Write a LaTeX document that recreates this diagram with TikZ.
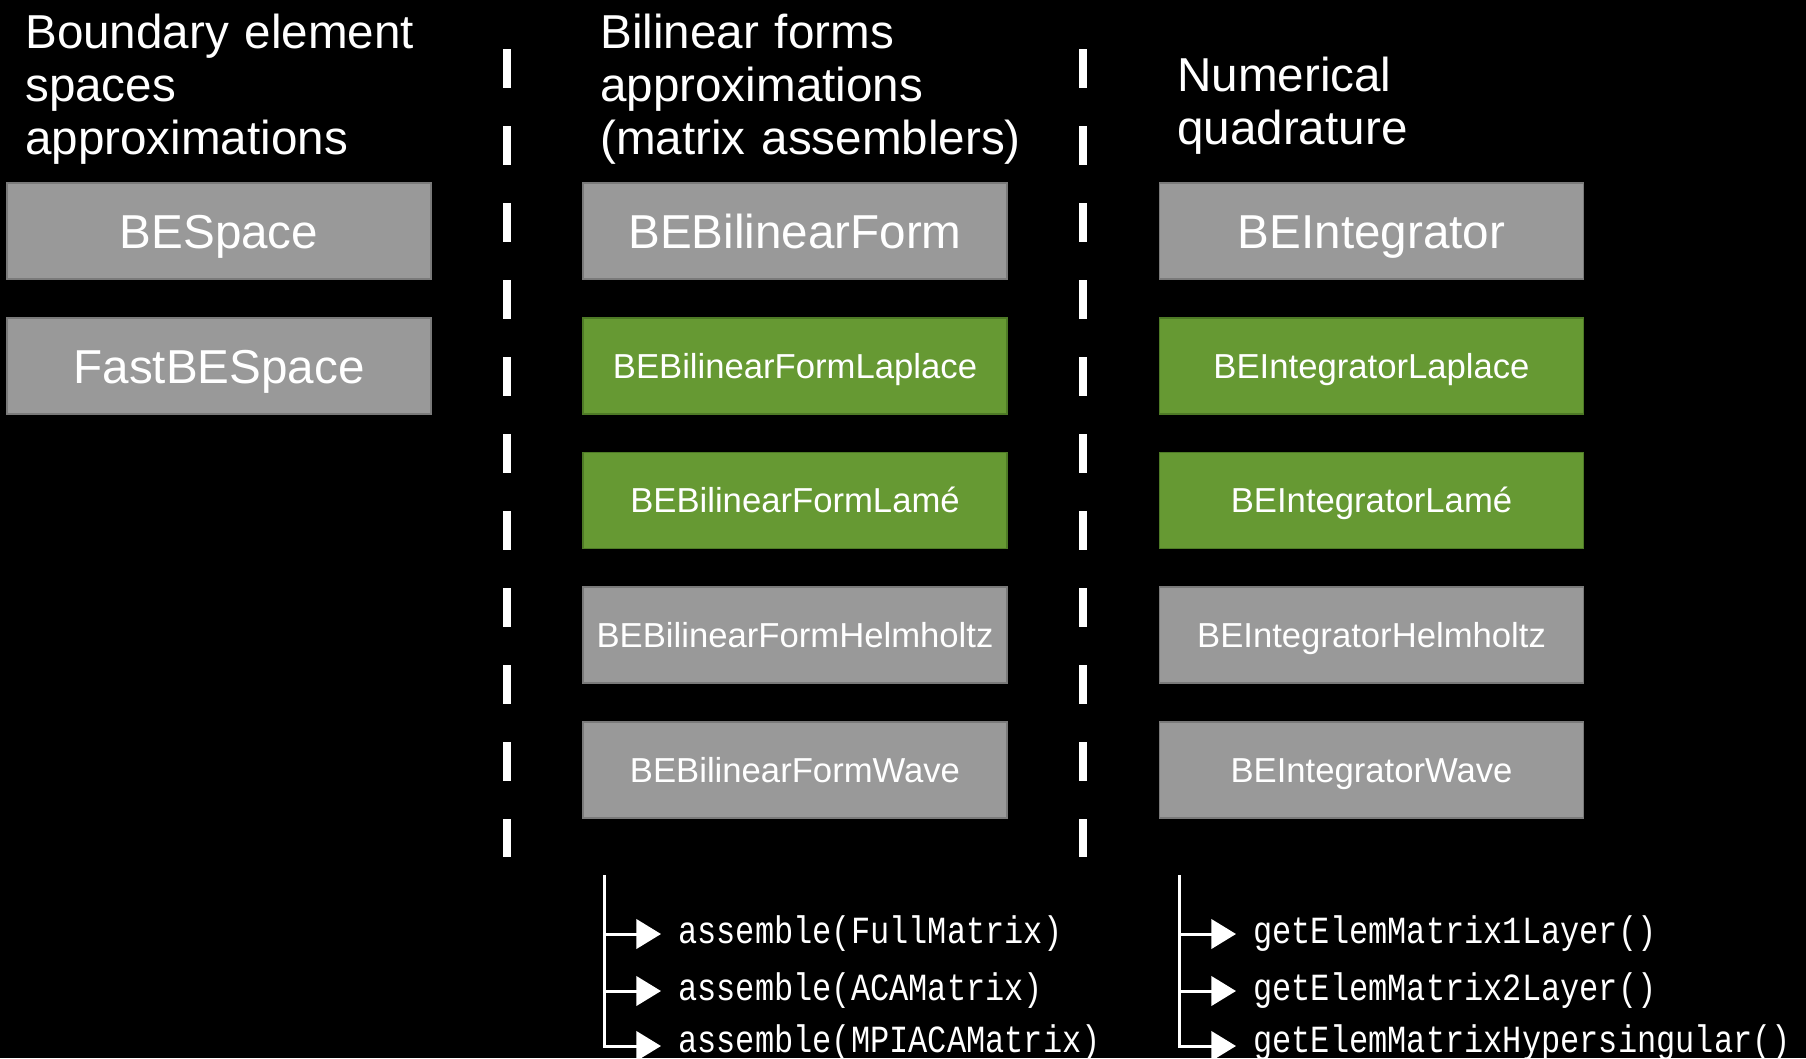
\documentclass[tikz,border=0pt]{standalone}
\usepackage{fontspec}
\usepackage{graphicx}
\setmainfont{Liberation Sans}
\setmonofont{Liberation Mono}
\usetikzlibrary{arrows.meta}
\newdimen\px \px=0.75pt
\newcommand{\tallmono}[1]{\scalebox{1}[1.2]{#1}}
\definecolor{boxgray}{HTML}{999999}
\definecolor{boxgrayline}{HTML}{7A7A7A}
\definecolor{boxgreen}{HTML}{669933}
\definecolor{boxgreenline}{HTML}{4E7A26}
\begin{document}
\begin{tikzpicture}[x=0.75pt,y=-0.75pt,
  box/.style={draw=boxgrayline, fill=boxgray, line width=1.2\px, minimum width=424\px, minimum height=96\px, inner sep=0pt, text=white, text height=25.6pt, text depth=0pt, font=\fontsize{35.7}{40}\selectfont},
  subbox/.style={box, text height=18.6pt, font=\fontsize{26}{30}\selectfont},
  greenbox/.style={subbox, fill=boxgreen, draw=boxgreenline},
  heading/.style={anchor=base west, inner sep=0pt, text=white, text width=560\px, align=left, font=\fontsize{35.7}{40}\selectfont},
  method/.style={anchor=base west, inner sep=0pt, text=white, font=\ttfamily\fontsize{24}{28}\selectfont},
  divider/.style={white, line width=8\px, dash pattern=on 38.5\px off 38.5\px},
  branch/.style={white, line width=3\px},
  arr/.style={branch, -{Triangle[length=18.5pt,width=22pt]}}
]
\fill[black] (0,0) rectangle (1806,1058);
\useasboundingbox (0,0) rectangle (1806,1058);

% headings
\node[heading] (h1) at (25,48) {Boundary element\\spaces\\approximations};
\node[heading] (h2) at (600,48) {Bilinear forms\\approximations\\(matrix assemblers)};
\node[heading] (h3) at (1177,91) {Numerical\\quadrature};

% left column
\node[box] (bespace) at (219,231) {BESpace};
\node[box] (fastbespace) at (219,366) {FastBESpace};

% middle column
\node[box] (bilin) at (795,231) {BEBilinearForm};
\node[greenbox] (bilinLap) at (795,366) {BEBilinearFormLaplace};
\node[greenbox] (bilinLame) at (795,500.5) {BEBilinearFormLamé};
\node[subbox] (bilinHelm) at (795,635) {BEBilinearFormHelmholtz};
\node[subbox] (bilinWave) at (795,770) {BEBilinearFormWave};

% right column
\node[box] (integ) at (1371.5,231) {BEIntegrator};
\node[greenbox] (integLap) at (1371.5,366) {BEIntegratorLaplace};
\node[greenbox] (integLame) at (1371.5,500.5) {BEIntegratorLamé};
\node[subbox] (integHelm) at (1371.5,635) {BEIntegratorHelmholtz};
\node[subbox] (integWave) at (1371.5,770) {BEIntegratorWave};

% dividers
\coordinate (d1a) at (507,49);
\coordinate (d1b) at (507,857);
\coordinate (d2a) at (1083,49);
\coordinate (d2b) at (1083,857);
\draw[divider] (d1a) -- (d1b);
\draw[divider] (d2a) -- (d2b);

% assemble methods
\coordinate (tA) at (604,875);
\coordinate (bA1) at (604,934);
\coordinate (bA2) at (604,991);
\coordinate (bA3) at (604,1046);
\coordinate (eA1) at (661,934);
\coordinate (eA2) at (661,991);
\coordinate (eA3) at (661,1046);
\node[method] (mA1) at (678,943) {\tallmono{assemble(FullMatrix)}};
\node[method] (mA2) at (678,1000) {\tallmono{assemble(ACAMatrix)}};
\node[method] (mA3) at (678,1052) {\tallmono{assemble(MPIACAMatrix)}};
\draw[arr] (tA) -- (bA3) -- (eA3);
\draw[arr] (bA1) -- (eA1);
\draw[arr] (bA2) -- (eA2);

% integrator methods
\coordinate (tB) at (1179,875);
\coordinate (bB1) at (1179,934);
\coordinate (bB2) at (1179,991);
\coordinate (bB3) at (1179,1046);
\coordinate (eB1) at (1236,934);
\coordinate (eB2) at (1236,991);
\coordinate (eB3) at (1236,1046);
\node[method] (mB1) at (1253,943) {\tallmono{getElemMatrix1Layer()}};
\node[method] (mB2) at (1253,1000) {\tallmono{getElemMatrix2Layer()}};
\node[method] (mB3) at (1253,1052) {\tallmono{getElemMatrixHypersingular()}};
\draw[arr] (tB) -- (bB3) -- (eB3);
\draw[arr] (bB1) -- (eB1);
\draw[arr] (bB2) -- (eB2);
\end{tikzpicture}
\end{document}
